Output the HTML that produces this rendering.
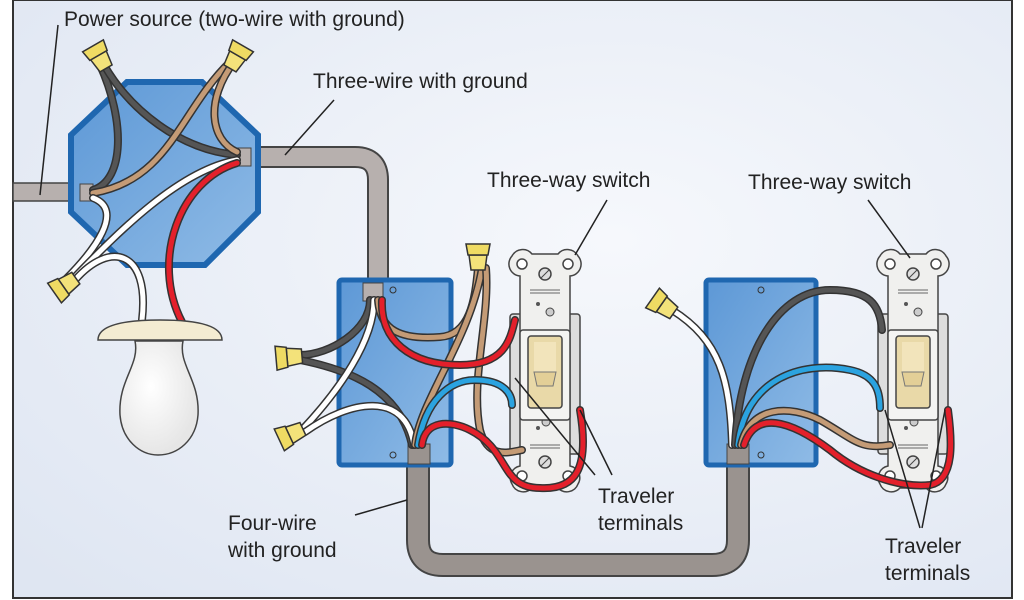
<!DOCTYPE html>
<html><head><meta charset="utf-8"><style>
html,body{margin:0;padding:0;background:#fff}
svg{display:block}
text{font-family:"Liberation Sans",sans-serif;font-size:21px;fill:#222}
</style></head><body>
<svg width="1024" height="600" viewBox="0 0 1024 600" xmlns="http://www.w3.org/2000/svg">
<defs>
<radialGradient id="bg" cx="0.6" cy="0.4" r="0.8"><stop offset="0" stop-color="#f6f8fc"/><stop offset="1" stop-color="#dfe6f2"/></radialGradient>
<linearGradient id="bx" x1="0" y1="0" x2="1" y2="1"><stop offset="0" stop-color="#5d98d6"/><stop offset="1" stop-color="#8fbbe6"/></linearGradient>
<radialGradient id="bulb" cx="0.4" cy="0.4" r="0.6"><stop offset="0" stop-color="#fff"/><stop offset="1" stop-color="#e6e6e6"/></radialGradient>
<g id="nut"><path d="M-9,-3 L9,-3 L7,12 L-7,12 Z" fill="#f3e27a" stroke="#333" stroke-width="1.5"/><path d="M-10,-3 L10,-3 L12,-14 L-12,-14 Z" fill="#efdb63" stroke="#333" stroke-width="1.5"/></g>
<g id="sw">
<rect x="0" y="62" width="70" height="140" rx="3" fill="#ddd" stroke="#444" stroke-width="1.5"/>
<path d="M2,4 a12,12 0 0 1 20,-2 h26 a12,12 0 0 1 20,2 a12,12 0 0 1 -8,20 v190 a12,12 0 0 1 8,18 a12,12 0 0 1 -20,4 h-26 a12,12 0 0 1 -20,-4 a12,12 0 0 1 8,-18 v-190 a12,12 0 0 1 -8,-20 z" fill="#f0f0ee" stroke="#444" stroke-width="1.5"/>
<circle cx="12" cy="12" r="5" fill="#fff" stroke="#444" stroke-width="1.5"/><circle cx="58" cy="12" r="5" fill="#fff" stroke="#444" stroke-width="1.5"/>
<circle cx="12" cy="224" r="5" fill="#fff" stroke="#444" stroke-width="1.5"/><circle cx="58" cy="224" r="5" fill="#fff" stroke="#444" stroke-width="1.5"/>
<circle cx="35" cy="22" r="6" fill="#ddd" stroke="#444" stroke-width="1.5"/><line x1="31" y1="26" x2="39" y2="18" stroke="#444"/>
<circle cx="35" cy="210" r="6" fill="#ddd" stroke="#444" stroke-width="1.5"/><line x1="31" y1="214" x2="39" y2="206" stroke="#444"/>
<line x1="20" y1="38" x2="50" y2="38" stroke="#666"/><line x1="20" y1="41" x2="50" y2="41" stroke="#666"/>
<line x1="20" y1="193" x2="50" y2="193" stroke="#666"/><line x1="20" y1="196" x2="50" y2="196" stroke="#666"/>
<circle cx="28" cy="52" r="2" fill="#555"/><circle cx="40" cy="60" r="4" fill="#ccc" stroke="#444"/>
<circle cx="28" cy="176" r="2" fill="#555"/><circle cx="36" cy="170" r="4" fill="#ccc" stroke="#444"/>
<rect x="10" y="78" width="50" height="90" rx="3" fill="#f4f4f2" stroke="#444" stroke-width="1.5"/>
<rect x="18" y="84" width="34" height="72" rx="3" fill="#e9d9a8" stroke="#444" stroke-width="1.5"/>
<rect x="24" y="90" width="22" height="30" fill="#f2e4bb"/>
<path d="M24,120 h22 l-3,14 h-16 z" fill="#e3cf97" stroke="#777"/>
</g>
</defs>
<rect x="0" y="0" width="1024" height="600" fill="#fff"/>
<rect x="13" y="0" width="999" height="598" fill="url(#bg)" stroke="#333" stroke-width="2"/>

<rect x="13" y="183" width="70" height="18" fill="#b7b0ae" stroke="#444" stroke-width="1.5"/>
<path d="M245,157 H355 Q378,157 378,180 V290" fill="none" stroke="#444" stroke-width="22"/>
<path d="M245,157 H355 Q378,157 378,180 V290" fill="none" stroke="#b7b0ae" stroke-width="18"/>
<path d="M418,448 V540 Q418,565 443,565 H712 Q738,565 738,540 V448" fill="none" stroke="#444" stroke-width="24"/>
<path d="M418,448 V540 Q418,565 443,565 H712 Q738,565 738,540 V448" fill="none" stroke="#9a938f" stroke-width="20"/>

<polygon points="127,82 202,82 258,135 258,212 205,265 127,265 71,212 71,135" fill="url(#bx)" stroke="#1f67b0" stroke-width="6"/>
<rect x="80" y="184" width="13" height="17" fill="#b7b0ae" stroke="#444"/>
<rect x="237" y="148" width="14" height="18" fill="#b7b0ae" stroke="#444"/>

<g fill="none" stroke-linecap="round">
<path d="M93,190 C125,180 125,120 100,65" stroke="#333" stroke-width="8"/><path d="M93,190 C125,180 125,120 100,65" stroke="#555" stroke-width="5"/>
<path d="M237,155 C180,150 130,110 104,65" stroke="#333" stroke-width="8"/><path d="M237,155 C180,150 130,110 104,65" stroke="#555" stroke-width="5"/>
<path d="M93,193 C170,180 180,110 230,62" stroke="#333" stroke-width="8"/><path d="M93,193 C170,180 180,110 230,62" stroke="#c49b76" stroke-width="5"/>
<path d="M237,152 C210,140 205,100 234,62" stroke="#333" stroke-width="8"/><path d="M237,152 C210,140 205,100 234,62" stroke="#c49b76" stroke-width="5"/>
<path d="M93,198 C125,210 95,250 65,280" stroke="#333" stroke-width="8"/><path d="M93,198 C125,210 95,250 65,280" stroke="#fff" stroke-width="5"/>
<path d="M237,160 C180,170 120,230 70,282" stroke="#333" stroke-width="8"/><path d="M237,160 C180,170 120,230 70,282" stroke="#fff" stroke-width="5"/>
<path d="M75,280 C110,240 150,250 142,320" stroke="#333" stroke-width="8"/><path d="M75,280 C110,240 150,250 142,320" stroke="#fff" stroke-width="5"/>
<path d="M237,163 C180,180 150,260 182,322" stroke="#333" stroke-width="8"/><path d="M237,163 C180,180 150,260 182,322" stroke="#e3202b" stroke-width="5"/>
</g>
<use href="#nut" transform="translate(100,58) rotate(-30)"/>
<use href="#nut" transform="translate(236,58) rotate(30)"/>
<use href="#nut" transform="translate(66,285) rotate(-125)"/>

<path d="M98,340 Q98,320 160,320 Q222,320 222,340 Z" fill="#f4ecd2" stroke="#444" stroke-width="1.5"/>
<path d="M135,341 C140,365 118,380 120,415 C122,440 140,455 158,455 C178,455 196,440 198,415 C200,380 178,365 183,341 Z" fill="url(#bulb)" stroke="#444" stroke-width="1.5"/>

<rect x="339" y="280" width="112" height="185" rx="3" fill="url(#bx)" stroke="#1f67b0" stroke-width="5"/>
<circle cx="393" cy="290" r="3" fill="none" stroke="#333"/><circle cx="393" cy="455" r="3" fill="none" stroke="#333"/>
<rect x="363" y="283" width="20" height="18" fill="#b7b0ae" stroke="#444"/>
<rect x="408" y="444" width="22" height="20" fill="#9a938f" stroke="#444"/>
<use href="#sw" transform="translate(510,252)"/>
<g fill="none" stroke-linecap="round">
<path d="M370,300 C370,330 330,355 300,355" stroke="#333" stroke-width="8"/><path d="M370,300 C370,330 330,355 300,355" stroke="#555" stroke-width="5"/>
<path d="M412,445 C400,390 350,370 300,360" stroke="#333" stroke-width="8"/><path d="M412,445 C400,390 350,370 300,360" stroke="#555" stroke-width="5"/>
<path d="M374,300 C374,340 340,390 300,432" stroke="#333" stroke-width="8"/><path d="M374,300 C374,340 340,390 300,432" stroke="#fff" stroke-width="5"/>
<path d="M414,445 C405,390 350,400 305,432" stroke="#333" stroke-width="8"/><path d="M414,445 C405,390 350,400 305,432" stroke="#fff" stroke-width="5"/>
<path d="M378,300 C380,330 400,340 440,337 C470,335 475,300 478,268" stroke="#333" stroke-width="8"/><path d="M378,300 C380,330 400,340 440,337 C470,335 475,300 478,268" stroke="#c49b76" stroke-width="5"/>
<path d="M415,445 C420,400 470,340 482,268" stroke="#333" stroke-width="8"/><path d="M415,445 C420,400 470,340 482,268" stroke="#c49b76" stroke-width="5"/>
<path d="M486,268 C490,320 470,380 480,430 C488,460 510,452 522,450" stroke="#333" stroke-width="8"/><path d="M486,268 C490,320 470,380 480,430 C488,460 510,452 522,450" stroke="#c49b76" stroke-width="5"/>
<path d="M382,300 C380,340 410,365 460,365 C505,365 510,340 515,320" stroke="#333" stroke-width="8"/><path d="M382,300 C380,340 410,365 460,365 C505,365 510,340 515,320" stroke="#e3202b" stroke-width="5"/>
<path d="M418,445 C425,400 450,380 475,380 C505,380 512,395 512,405" stroke="#333" stroke-width="8"/><path d="M418,445 C425,400 450,380 475,380 C505,380 512,395 512,405" stroke="#2ba3e0" stroke-width="5"/>
<path d="M422,445 C425,420 450,420 470,430 C510,450 500,488 540,488 C575,490 590,470 580,410" stroke="#333" stroke-width="8"/><path d="M422,445 C425,420 450,420 470,430 C510,450 500,488 540,488 C575,490 590,470 580,410" stroke="#e3202b" stroke-width="5"/>
</g>
<use href="#nut" transform="translate(290,357) rotate(-95)"/>
<use href="#nut" transform="translate(292,434) rotate(-115)"/>
<use href="#nut" transform="translate(478,258) rotate(0)"/>

<rect x="706" y="280" width="110" height="185" rx="3" fill="url(#bx)" stroke="#1f67b0" stroke-width="5"/>
<circle cx="761" cy="290" r="3" fill="none" stroke="#333"/><circle cx="761" cy="455" r="3" fill="none" stroke="#333"/>
<rect x="727" y="444" width="22" height="20" fill="#9a938f" stroke="#444"/>
<use href="#sw" transform="translate(878,252)"/>
<g fill="none" stroke-linecap="round">
<path d="M732,445 C730,380 720,340 672,310" stroke="#333" stroke-width="8"/><path d="M732,445 C730,380 720,340 672,310" stroke="#fff" stroke-width="5"/>
<path d="M735,445 C740,350 780,290 830,290 C870,290 880,305 882,330" stroke="#333" stroke-width="8"/><path d="M735,445 C740,350 780,290 830,290 C870,290 880,305 882,330" stroke="#555" stroke-width="5"/>
<path d="M738,445 C745,380 800,360 850,370 C875,375 880,390 880,408" stroke="#333" stroke-width="8"/><path d="M738,445 C745,380 800,360 850,370 C875,375 880,390 880,408" stroke="#2ba3e0" stroke-width="5"/>
<path d="M741,445 C750,405 790,405 820,420 C855,440 860,450 890,445" stroke="#333" stroke-width="8"/><path d="M741,445 C750,405 790,405 820,420 C855,440 860,450 890,445" stroke="#c49b76" stroke-width="5"/>
<path d="M744,445 C755,410 790,420 830,450 C860,475 900,488 930,485 C955,480 952,440 948,410" stroke="#333" stroke-width="8"/><path d="M744,445 C755,410 790,420 830,450 C860,475 900,488 930,485 C955,480 952,440 948,410" stroke="#e3202b" stroke-width="5"/>
</g>
<use href="#nut" transform="translate(664,306) rotate(-55)"/>

<g stroke="#222" stroke-width="1.5" fill="none">
<line x1="58" y1="25" x2="40" y2="195"/>
<line x1="334" y1="100" x2="285" y2="155"/>
<line x1="607" y1="200" x2="575" y2="255"/>
<line x1="868" y1="200" x2="910" y2="258"/>
<line x1="515" y1="378" x2="595" y2="475"/><line x1="580" y1="410" x2="612" y2="475"/>
<line x1="885" y1="410" x2="920" y2="528"/><line x1="945" y1="410" x2="922" y2="528"/>
<line x1="355" y1="515" x2="407" y2="500"/>
</g>
<text x="64" y="26">Power source (two-wire with ground)</text>
<text x="313" y="88">Three-wire with ground</text>
<text x="487" y="187">Three-way switch</text>
<text x="748" y="189">Three-way switch</text>
<text x="598" y="503">Traveler</text>
<text x="598" y="530">terminals</text>
<text x="228" y="530">Four-wire</text>
<text x="228" y="557">with ground</text>
<text x="885" y="553">Traveler</text>
<text x="885" y="580">terminals</text>
</svg>
</body></html>
